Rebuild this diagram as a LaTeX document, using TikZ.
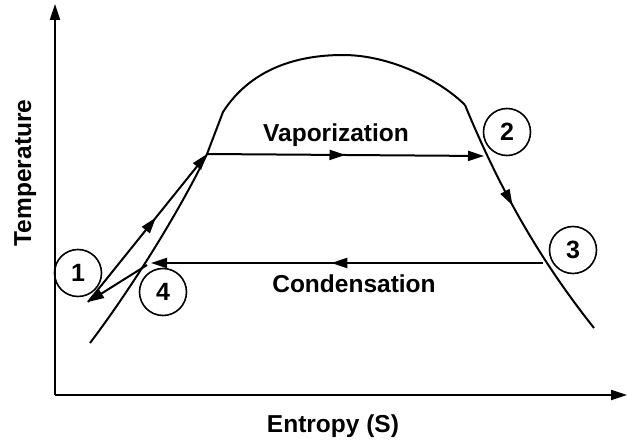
\documentclass[tikz,border=0pt]{standalone}
\usepackage{fontspec}
\setmainfont{Liberation Sans}
\usepackage{tikz}
\usetikzlibrary{arrows.meta,decorations.markings}

\begin{document}
\begin{tikzpicture}[
      x=1pt,y=-1pt,
      ln/.style={line width=2pt},
      tip/.style={-{Triangle[length=16pt,width=10pt]}},
      midarrow/.style={postaction={decorate},decoration={markings,
        mark=at position #1 with {\arrow{Triangle[length=16pt,width=10pt]}}}},
      num/.style={draw,circle,line width=1.6pt,minimum size=47pt,inner sep=0pt,
        font=\fontsize{25}{28}\selectfont\bfseries},
      lbl/.style={font=\fontsize{24.5}{28}\selectfont\bfseries,anchor=base}
    ]
    \useasboundingbox (0,0) rectangle (627,441);
    % axes
    \coordinate (o) at (55,395);
    \coordinate (ytop) at (55,4);
    \coordinate (xend) at (627,395);
    \draw[ln,tip] (o) -- (ytop);
    \draw[ln,tip] (o) -- (xend);
    \node[lbl,rotate=90] (tlab) at (31,173) {Temperature};
    \node[lbl] (slab) at (333,432) {Entropy (S)};

    % saturation dome
    \coordinate (lb) at (90,343);
    \coordinate (v0) at (207,154);
    \coordinate (lk) at (223,112);
    \coordinate (top) at (343,55);
    \coordinate (rk) at (465,105);
    \coordinate (rb) at (594,328);
    \draw[ln] (lb) .. controls (125,297) and (175,220) .. (v0) -- (lk)
      .. controls (250,70) and (295,55) .. (top)
      .. controls (390,55) and (440,80) .. (rk);
    \draw[ln,midarrow=0.43] (rk) .. controls (500,190) and (540,260) .. (rb);

    % cycle
    \coordinate (v1) at (484,156);
    \coordinate (c0) at (543,263);
    \coordinate (c1) at (151,263);
    \coordinate (p1) at (88,302);
    \coordinate (p4) at (147,265);
    \draw[ln,tip,midarrow=0.5] (v0) -- (v1);
    \draw[ln,tip,midarrow=0.54] (c0) -- (c1);
    \draw[ln,tip] (p4) -- (p1);
    \draw[ln,tip,midarrow=0.57] (p1) -- (v0);
    \node[lbl] (vap) at (336,142) {Vaporization};
    \node[lbl] (cond) at (354,292) {Condensation};

    % state points
    \node[num] (n1) at (78,273) {1};
    \node[num] (n2) at (507,132) {2};
    \node[num] (n3) at (573,250) {3};
    \node[num] (n4) at (163,292) {4};
  \end{tikzpicture}
\end{document}
